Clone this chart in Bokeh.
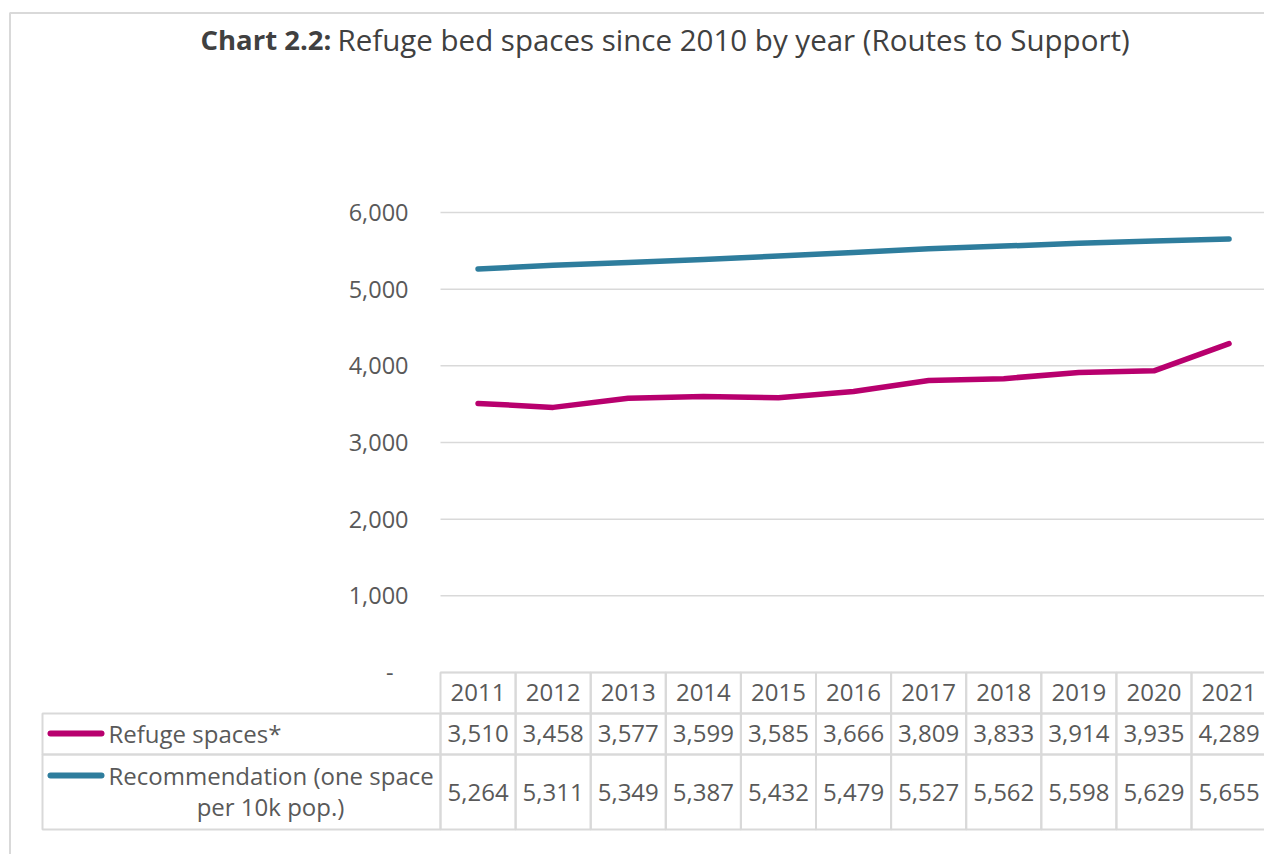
from bokeh.plotting import figure
from bokeh.models import Range1d
from bokeh.core.properties import value
from bokeh.embed import file_html
from bokeh.resources import INLINE

# ---------------- data ----------------
years = ["2011", "2012", "2013", "2014", "2015", "2016", "2017", "2018", "2019", "2020", "2021"]
refuge = [3510, 3458, 3577, 3599, 3585, 3666, 3809, 3833, 3914, 3935, 4289]
recommendation = [5264, 5311, 5349, 5387, 5432, 5479, 5527, 5562, 5598, 5629, 5655]
y_ticks = [0, 1000, 2000, 3000, 4000, 5000, 6000]
y_tick_labels = ["-", "1,000", "2,000", "3,000", "4,000", "5,000", "6,000"]
series_labels = ["Refuge spaces*", "Recommendation (one space", "per 10k pop.)"]
title_bold = "Chart 2.2:"
title_rest = "Refuge bed spaces since 2010 by year (Routes to Support)"

# ---------------- layout ----------------
W, H = 1264, 854
PLOT_L = 440            # page x of the left edge of the first year column
ZERO_Y = 672            # page y of the value 0
COL = 75.1              # column width (px)
PX_PER_UNIT = 460.0 / 6000.0

FONT = "Open Sans"
TXT = "#595959"
GRID = "#d9d9d9"
PINK = "#b8006e"
BLUE = "#2e7d9d"

p = figure(width=W, height=H,
           x_range=Range1d(-PLOT_L / COL, (W - PLOT_L) / COL),
           y_range=Range1d(-(H - ZERO_Y) / PX_PER_UNIT, ZERO_Y / PX_PER_UNIT),
           output_backend="svg", toolbar_location=None,
           x_axis_location=None, y_axis_location=None,
           min_border_left=0, min_border_right=0,
           min_border_top=0, min_border_bottom=0)
p.outline_line_color = None
p.xgrid.visible = False
p.ygrid.visible = False
p.background_fill_color = "white"
p.border_fill_color = "white"

# pixel helper ranges: x_px = page_x - 440 ; y_px = page_y - 672
p.extra_x_ranges = {"px": Range1d(-PLOT_L, W - PLOT_L)}
p.extra_y_ranges = {"px": Range1d(H - ZERO_Y, -ZERO_Y)}

n = len(years)
centers = [i + 0.5 for i in range(n)]

# horizontal gridlines at the value ticks
p.segment(x0=[0] * len(y_ticks), x1=[W / COL] * len(y_ticks), y0=y_ticks, y1=y_ticks,
          line_color=GRID, line_width=1.5)

# y tick labels (the zero label "-" sits a little further left, accounting style)
tick_x = [-47 if lab == "-" else -32 for lab in y_tick_labels]
p.text(x=tick_x, y=y_ticks, text=y_tick_labels, x_range_name="px",
       text_align="right", text_baseline="middle",
       text_font=value(FONT), text_font_size="23.5px", text_color=TXT)

# series lines
p.line(centers, recommendation, line_color=BLUE, line_width=5.5,
       line_cap="round", line_join="round")
p.line(centers, refuge, line_color=PINK, line_width=5.5,
       line_cap="round", line_join="round")

# ---------------- data table ----------------
row_top = [0, 41, 82]
row_bot = [41, 82, 157]
row_mid = [19.5, 61, 119.5]

lefts, rights, tops, bots = [], [], [], []
for r in range(3):
    for i in range(n):
        lefts.append(i)
        rights.append(i + 1)
        tops.append(row_top[r])
        bots.append(row_bot[r])
p.quad(left=lefts, right=rights, top=tops, bottom=bots, y_range_name="px",
       fill_alpha=0, line_color=GRID, line_width=2)

rows_text = [years,
             [f"{v:,}" for v in refuge],
             [f"{v:,}" for v in recommendation]]
for r in range(3):
    p.text(x=centers, y=[row_mid[r]] * n, text=rows_text[r],
           y_range_name="px", text_align="center", text_baseline="middle",
           text_font=value(FONT), text_font_size="24px", text_color=TXT)

# label column
p.quad(left=[42 - PLOT_L] * 2, right=[0, 0], top=row_top[1:], bottom=row_bot[1:],
       x_range_name="px", y_range_name="px",
       fill_alpha=0, line_color=GRID, line_width=2)

p.segment(x0=[50 - PLOT_L] * 2, x1=[101 - PLOT_L] * 2, y0=[61, 103], y1=[61, 103],
          x_range_name="px", y_range_name="px",
          line_color=[PINK, BLUE], line_width=6, line_cap="round")

p.text(x=[108 - PLOT_L, 108 - PLOT_L], y=[61, 103], text=series_labels[:2],
       x_range_name="px", y_range_name="px",
       text_align="left", text_baseline="middle",
       text_font=value(FONT), text_font_size="24px", text_color=TXT)
p.text(x=[270 - PLOT_L], y=[134], text=series_labels[2:],
       x_range_name="px", y_range_name="px",
       text_align="center", text_baseline="middle",
       text_font=value(FONT), text_font_size="24px", text_color=TXT)

# title
p.text(x=[200 - PLOT_L], y=[39 - ZERO_Y], text=[title_bold],
       x_range_name="px", y_range_name="px",
       text_align="left", text_baseline="middle",
       text_font=value(FONT), text_font_style="bold",
       text_font_size="27.5px", text_color="#404040")
p.text(x=[337 - PLOT_L], y=[39 - ZERO_Y], text=[title_rest],
       x_range_name="px", y_range_name="px",
       text_align="left", text_baseline="middle",
       text_font=value(FONT), text_font_size="29.5px", text_color="#404040")

# outer chart border
p.quad(left=[9.5 - PLOT_L], right=[W], top=[12.5 - ZERO_Y], bottom=[H],
       x_range_name="px", y_range_name="px",
       fill_alpha=0, line_color=GRID, line_width=2)

open("out.html", "w").write(file_html(p, INLINE))
